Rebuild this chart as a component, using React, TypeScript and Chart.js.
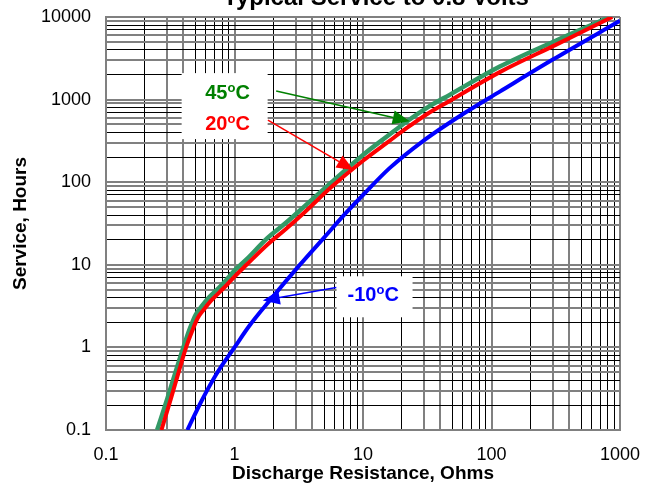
import React, { useEffect, useRef } from 'react';
import { Chart, registerables } from 'chart.js';

Chart.register(...registerables);

// ---------- data ----------
const X_DECADES = [0.1, 1, 10, 100, 1000];
const X_TICK_LABELS = ['0.1', '1', '10', '100', '1000'];
const Y_DECADES = [0.1, 1, 10, 100, 1000, 10000];
const Y_TICK_LABELS = ['0.1', '1', '10', '100', '1000', '10000'];

const R_45C = [0.25, 0.3, 0.35, 0.4, 0.45, 0.5, 0.56, 0.64, 0.75, 0.86, 1.0, 1.24, 1.8, 2.5, 3.5, 5.7, 10, 15.8, 21.8, 31.6, 47.6, 116, 316, 834];
const H_45C = [0.1, 0.24, 0.52, 1.0, 1.7, 2.5, 3.2, 4.1, 5.2, 6.5, 8.5, 11.6, 21, 32, 51, 100, 214, 370, 540, 800, 1150, 2510, 5160, 10000];

const R_20C = [0.27, 0.32, 0.37, 0.42, 0.47, 0.52, 0.58, 0.66, 0.77, 0.88, 1.0, 1.24, 1.8, 2.5, 3.5, 5.7, 10, 15.8, 21.8, 31.6, 47.6, 116, 316, 870];
const H_20C = [0.1, 0.24, 0.52, 1.0, 1.6, 2.3, 2.9, 3.7, 4.7, 5.8, 7.2, 10, 17.5, 27, 43, 88, 182, 310, 450, 670, 970, 2150, 4600, 10000];

const R_M10C = [0.43, 0.55, 0.72, 1.0, 1.31, 1.88, 3.21, 5, 7.43, 10, 16.1, 29.3, 60, 116, 300, 1000];
const H_M10C = [0.1, 0.22, 0.47, 1.0, 1.84, 3.7, 9.9, 21.5, 43, 70, 148, 315, 670, 1250, 3050, 9000];

const SERIES_NAMES = ['45°C', '20°C', '-10°C'];

// ---------- styles ----------
const FONT = '"Liberation Sans", Arial, Helvetica, sans-serif';
const GRAY = '#808080';
const BLACK = '#000000';
const X_GRID_GRAY = [true, false, true, true, false, false, false, false, false];
const Y_GRID_GRAY = [true, false, true, false, true, true, false, false, true];

const COLORS = {
  c45: '#339966',
  c20: '#ff0000',
  m10: '#0000ff',
  t45: '#008000',
  t20: '#ff0000',
  tm10: '#0000ff',
};

function buildLogTicks(min: number, max: number) {
  const out: { value: number }[] = [];
  const d0 = Math.round(Math.log10(min));
  const d1 = Math.round(Math.log10(max));
  for (let d = d0; d < d1; d++) {
    for (let k = 1; k <= 9; k++) out.push({ value: k * Math.pow(10, d) });
  }
  out.push({ value: max });
  return out;
}

function mult(v: number) {
  const e = Math.floor(Math.log10(v) + 1e-9);
  return Math.round(v / Math.pow(10, e));
}

function labelFor(v: number, decades: number[], labels: string[]) {
  const i = decades.findIndex((d) => Math.abs(Math.log10(d) - Math.log10(v)) < 1e-6);
  return i >= 0 ? labels[i] : '';
}

function toPts(xs: number[], ys: number[]) {
  return xs.map((x, i) => ({ x, y: ys[i] }));
}

// annotation anchors (data coordinates)
const ANNOTATIONS = {
  label45: { x: 0.883, y: 1222 },
  label20: { x: 0.883, y: 515 },
  box1: { x: 0.838, y: 834 },
  arrow45: { from: { x: 2.11, y: 1268 }, to: { x: 23.1, y: 548 } },
  arrow20: { from: { x: 1.82, y: 565 }, to: { x: 8.47, y: 140 } },
  labelM10: { x: 12.0, y: 4.38 },
  box2: { x: 12.3, y: 4.1 },
  arrowM10: { from: { x: 6.2, y: 5.3 }, to: { x: 1.66, y: 3.7 } },
};

function drawTemp(ctx: CanvasRenderingContext2D, cx: number, cy: number, prefix: string, color: string) {
  const big = `bold 20px ${FONT}`;
  const small = `bold 13px ${FONT}`;
  ctx.font = big;
  const w1 = ctx.measureText(prefix).width;
  const w3 = ctx.measureText('C').width;
  ctx.font = small;
  const w2 = ctx.measureText('o').width;
  const total = w1 + w2 + w3;
  const x0 = cx - total / 2;
  const base = cy + 7;
  ctx.fillStyle = color;
  ctx.textAlign = 'left';
  ctx.textBaseline = 'alphabetic';
  ctx.font = big;
  ctx.fillText(prefix, x0, base);
  ctx.font = small;
  ctx.fillText('o', x0 + w1, base - 7.5);
  ctx.font = big;
  ctx.fillText('C', x0 + w1 + w2, base);
}

function drawArrow(ctx: CanvasRenderingContext2D, x1: number, y1: number, x2: number, y2: number, color: string) {
  const dx = x2 - x1;
  const dy = y2 - y1;
  const len = Math.hypot(dx, dy);
  const ux = dx / len;
  const uy = dy / len;
  const hl = 17;
  const hw = 7;
  const bx = x2 - ux * hl;
  const by = y2 - uy * hl;
  ctx.strokeStyle = color;
  ctx.lineWidth = 1.5;
  ctx.beginPath();
  ctx.moveTo(x1, y1);
  ctx.lineTo(bx, by);
  ctx.stroke();
  ctx.fillStyle = color;
  ctx.beginPath();
  ctx.moveTo(x2, y2);
  ctx.lineTo(bx - uy * hw, by + ux * hw);
  ctx.lineTo(bx + uy * hw, by - ux * hw);
  ctx.closePath();
  ctx.fill();
}

const annotationPlugin = {
  id: 'annotations',
  afterDatasetsDraw(chart: any) {
    const ctx: CanvasRenderingContext2D = chart.ctx;
    const xs = chart.scales.x;
    const ys = chart.scales.y;
    const P = (p: { x: number; y: number }) => [xs.getPixelForValue(p.x), ys.getPixelForValue(p.y)];
    ctx.save();
    ctx.fillStyle = '#ffffff';
    const [b1x, b1y] = P(ANNOTATIONS.box1);
    ctx.fillRect(b1x - 43, b1y - 33, 86, 66);
    const [b2x, b2y] = P(ANNOTATIONS.box2);
    ctx.fillRect(b2x - 38, b2y - 20.5, 76, 41);
    let a = ANNOTATIONS.arrow45;
    let [fx, fy] = P(a.from);
    let [tx, ty] = P(a.to);
    drawArrow(ctx, fx, fy, tx, ty, COLORS.t45);
    a = ANNOTATIONS.arrow20;
    [fx, fy] = P(a.from);
    [tx, ty] = P(a.to);
    drawArrow(ctx, fx, fy, tx, ty, COLORS.t20);
    a = ANNOTATIONS.arrowM10;
    [fx, fy] = P(a.from);
    [tx, ty] = P(a.to);
    drawArrow(ctx, fx, fy, tx, ty, COLORS.tm10);
    let [lx, ly] = P(ANNOTATIONS.label45);
    drawTemp(ctx, lx, ly, '45', COLORS.t45);
    [lx, ly] = P(ANNOTATIONS.label20);
    drawTemp(ctx, lx, ly, '20', COLORS.t20);
    [lx, ly] = P(ANNOTATIONS.labelM10);
    drawTemp(ctx, lx, ly, '-10', COLORS.tm10);
    ctx.restore();
  },
  afterDraw(chart: any) {
    const ctx: CanvasRenderingContext2D = chart.ctx;
    ctx.save();
    ctx.font = `bold 24px ${FONT}`;
    ctx.fillStyle = '#000';
    ctx.textAlign = 'center';
    ctx.textBaseline = 'alphabetic';
    ctx.fillText('Typical Service to 0.8 Volts', 376, 5);
    ctx.restore();
  },
};

function gridStyle(grayPattern: boolean[]) {
  return {
    color: (c: any) => {
      const v = c.tick && c.tick.value;
      if (!v) return BLACK;
      return grayPattern[mult(v) - 1] ? GRAY : BLACK;
    },
    lineWidth: (c: any) => {
      const v = c.tick && c.tick.value;
      if (!v) return 1;
      return grayPattern[mult(v) - 1] ? 2 : 1;
    },
    drawTicks: false,
  };
}

export default function App() {
  const ref = useRef<HTMLCanvasElement>(null);
  useEffect(() => {
    if (!ref.current) return;
    const chart = new Chart(ref.current, {
      type: 'scatter',
      data: {
        datasets: [
          {
            label: SERIES_NAMES[0],
            data: toPts(R_45C, H_45C),
            showLine: true,
            borderColor: COLORS.c45,
            backgroundColor: COLORS.c45,
            borderWidth: 4.5,
            pointRadius: 0,
            cubicInterpolationMode: 'monotone',
            order: 3,
          },
          {
            label: SERIES_NAMES[1],
            data: toPts(R_20C, H_20C),
            showLine: true,
            borderColor: COLORS.c20,
            backgroundColor: COLORS.c20,
            borderWidth: 4,
            pointRadius: 0,
            cubicInterpolationMode: 'monotone',
            order: 2,
          },
          {
            label: SERIES_NAMES[2],
            data: toPts(R_M10C, H_M10C),
            showLine: true,
            borderColor: COLORS.m10,
            backgroundColor: COLORS.m10,
            borderWidth: 4,
            pointRadius: 0,
            cubicInterpolationMode: 'monotone',
            order: 1,
          },
        ],
      } as any,
      options: {
        responsive: false,
        animation: false,
        devicePixelRatio: 1,
        layout: { padding: { left: 0, right: 37, top: 17, bottom: 0 } },
        plugins: {
          legend: { display: false },
          tooltip: { enabled: false },
          title: { display: false },
        },
        scales: {
          x: {
            type: 'logarithmic',
            min: 0.1,
            max: 1000,
            afterBuildTicks: (s: any) => {
              s.ticks = buildLogTicks(0.1, 1000);
            },
            afterFit: (s: any) => {
              s.height = 57;
              s.paddingLeft = 0;
              s.paddingRight = 0;
            },
            ticks: {
              autoSkip: false,
              maxRotation: 0,
              minRotation: 0,
              padding: 14,
              color: '#000',
              font: { family: FONT, size: 18 },
              callback: (v: any) => labelFor(Number(v), X_DECADES, X_TICK_LABELS),
            },
            grid: gridStyle(X_GRID_GRAY),
            border: { display: true, color: GRAY, width: 2 },
            title: {
              display: true,
              text: 'Discharge Resistance, Ohms',
              color: '#000',
              font: { family: FONT, size: 19, weight: 'bold' },
              padding: { top: 0, bottom: 2 },
            },
          },
          y: {
            type: 'logarithmic',
            min: 0.1,
            max: 10000,
            afterBuildTicks: (s: any) => {
              s.ticks = buildLogTicks(0.1, 10000);
            },
            afterFit: (s: any) => {
              s.width = 106;
              s.paddingTop = 0;
              s.paddingBottom = 0;
            },
            ticks: {
              autoSkip: false,
              padding: 15,
              color: '#000',
              font: { family: FONT, size: 18 },
              callback: (v: any) => labelFor(Number(v), Y_DECADES, Y_TICK_LABELS),
            },
            grid: gridStyle(Y_GRID_GRAY),
            border: { display: true, color: GRAY, width: 2 },
            title: {
              display: true,
              text: 'Service, Hours',
              color: '#000',
              font: { family: FONT, size: 19, weight: 'bold' },
              padding: { top: 9, bottom: 0 },
            },
          },
        },
      } as any,
      plugins: [annotationPlugin],
    });
    return () => chart.destroy();
  }, []);

  return (
    <div style={{ position: 'fixed', left: 0, top: 0, width: 657, height: 487, background: '#fff' }}>
      <canvas ref={ref} width={657} height={487} style={{ display: 'block' }} />
    </div>
  );
}
